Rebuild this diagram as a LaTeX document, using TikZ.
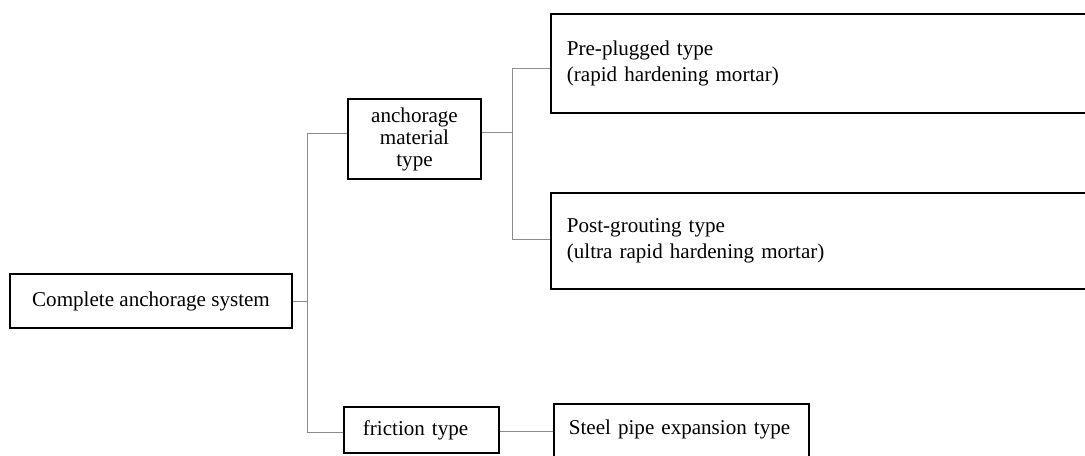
\documentclass[tikz,border=0pt]{standalone}
\usepackage{fontspec}
\setmainfont{Liberation Serif}
\usetikzlibrary{positioning,calc}

\begin{document}
\begin{tikzpicture}[x=0.02cm, y=-0.02cm, main node/.style={draw,line width=1pt,inner sep=0pt,font=\fontsize{12}{14}\selectfont}, link/.style={draw=black!45,line width=0.4pt}]%densely dotted,
\clip (0,0) rectangle (1085,456);
\begin{scope}
\node[main node,minimum width=5.64cm,minimum height=1.08cm] (sys) at (151,301) {Complete anchorage system};
\node[main node,minimum width=2.66cm,minimum height=1.6cm,align=center,font=\fontsize{12}{12.5}\selectfont] (mat) at (414.5,139) {anchorage\\material\\type};
\node[main node,anchor=north west,inner xsep=0.32cm,text width=10.36cm,minimum height=1.98cm,align=left,font=\fontsize{12}{15}\selectfont] (pre) at (550,13) {Pre-plugged type\\(rapid hardening mortar)};
\node[main node,anchor=north west,inner xsep=0.32cm,text width=10.36cm,minimum height=1.92cm,align=left,font=\fontsize{12}{14.5}\selectfont] (post) at (550,192) {Post-grouting type\\(ultra rapid hardening mortar)};
\node[main node,anchor=north west,inner xsep=0.38cm,text width=2.34cm,minimum height=0.92cm,align=left] (fric) at (343,406) {friction type};
\node[main node,anchor=north west,inner xsep=0.3cm,text width=4.5cm,text height=0.62cm,text depth=0.8cm,align=left] (steel) at (553,403) {Steel pipe expansion type};
%\node[main node] () at (,) {};
\end{scope}
\begin{scope}
\coordinate (t1) at (307,133);
\coordinate (t2) at (307,432);
\coordinate (m1) at (512,132);
\coordinate (u1) at (512,68);
\coordinate (u2) at (512,239);
\coordinate (s1) at (525,431);
\draw[link] (sys.east) -- (sys.east -| t1);
\draw[link] (mat.west |- t1) -- (t1) -- (t2) -- (fric.west |- t2);
\draw[link] (mat.east |- m1) -- (m1);
\draw[link] (pre.west |- u1) -- (u1) -- (u2) -- (post.west |- u2);
\draw[link] (fric.east |- s1) -- (steel.west |- s1);
%\draw[link] () -- ();
\end{scope}
\end{tikzpicture}
\end{document}
